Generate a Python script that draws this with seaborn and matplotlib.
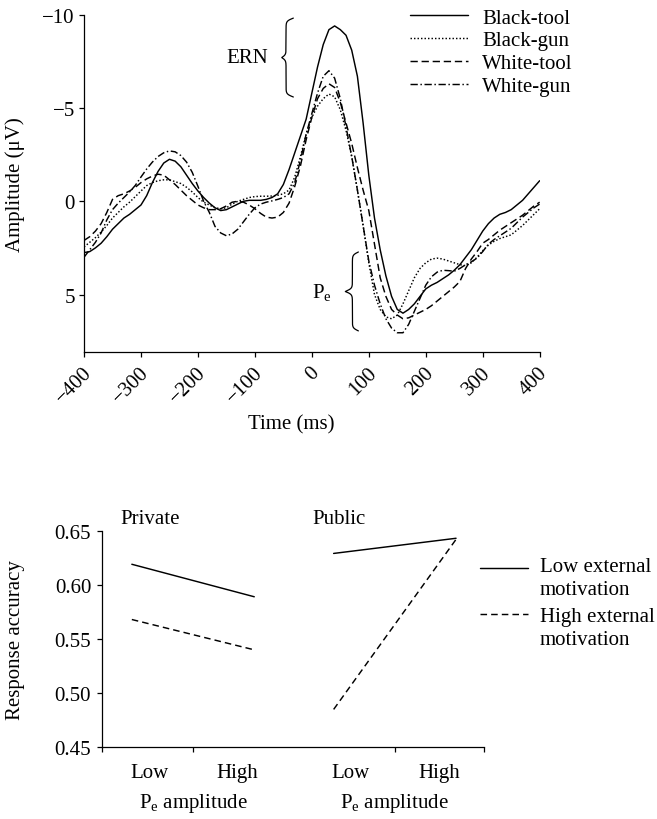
import numpy as np
import pandas as pd
import matplotlib
matplotlib.use("Agg")
import matplotlib.pyplot as plt
import matplotlib.transforms as mtransforms
from matplotlib.lines import Line2D
import seaborn as sns

# ---------------- ERP waveforms (amplitude in µV, negative plotted up) ----------------
time_ms = list(range(-400, 401, 10))

black_tool = [2.75, 2.7, 2.5, 2.25, 1.9, 1.5, 1.2, 0.9, 0.7, 0.45,
              0.2, -0.3, -1.0, -1.6, -2.05, -2.25, -2.15, -1.85, -1.4, -0.95,
              -0.55, -0.2, 0.1, 0.35, 0.5, 0.45, 0.3, 0.15, 0.0, -0.05,
              -0.05, -0.05, -0.1, -0.2, -0.4, -0.9, -1.7, -2.6, -3.5, -4.4,
              -5.8, -7.2, -8.4, -9.2, -9.4, -9.2, -8.9, -8.1, -6.7, -4.2,
              -1.4, 0.9, 2.6, 4.0, 5.1, 5.8, 6.0, 5.8, 5.5, 5.1,
              4.7, 4.5, 4.35, 4.15, 3.95, 3.7, 3.4, 3.0, 2.6, 2.1,
              1.6, 1.2, 0.9, 0.7, 0.6, 0.45, 0.2, -0.05, -0.4, -0.75,
              -1.1]

black_gun = [2.45, 2.2, 1.95, 1.65, 1.3, 0.9, 0.6, 0.3, 0.05, -0.25,
             -0.55, -0.84, -1.0, -1.1, -1.15, -1.15, -1.05, -0.95, -0.75, -0.5,
             -0.2, 0.05, 0.2, 0.35, 0.4, 0.35, 0.15, 0.0, -0.1, -0.2,
             -0.25, -0.27, -0.27, -0.28, -0.32, -0.4, -0.6, -1.3, -2.4, -3.6,
             -4.5, -5.1, -5.5, -5.75, -5.6, -4.9, -3.8, -2.4, -0.6, 1.3,
             3.3, 5.0, 5.8, 6.2, 6.3, 6.1, 5.5, 4.8, 4.1, 3.6,
             3.3, 3.1, 3.05, 3.1, 3.2, 3.3, 3.4, 3.45, 3.3, 3.0,
             2.65, 2.35, 2.15, 2.0, 1.9, 1.8, 1.55, 1.3, 1.0, 0.7,
             0.4]

white_tool = [2.1, 1.9, 1.6, 1.2, 0.6, -0.1, -0.3, -0.4, -0.55, -0.75,
              -1.0, -1.2, -1.35, -1.45, -1.4, -1.15, -0.9, -0.6, -0.3, -0.05,
              0.2, 0.35, 0.45, 0.45, 0.4, 0.25, 0.05, 0.0, 0.05, 0.2,
              0.4, 0.65, 0.85, 0.9, 0.85, 0.6, 0.1, -0.8, -1.9, -3.3,
              -4.5, -5.5, -6.05, -6.3, -6.1, -5.3, -4.2, -3.1, -1.8, -0.6,
              0.5, 2.3, 4.1, 5.1, 5.8, 6.1, 6.3, 6.25, 6.1, 5.95,
              5.8, 5.6, 5.35, 5.1, 4.85, 4.6, 4.3, 3.6, 3.1, 2.7,
              2.25, 2.05, 1.8, 1.55, 1.35, 1.15, 0.95, 0.75, 0.5, 0.25,
              0.05]

white_gun = [3.0, 2.6, 2.2, 1.7, 1.0, 0.45, 0.1, -0.2, -0.5, -0.85,
             -1.3, -1.73, -2.1, -2.4, -2.6, -2.7, -2.65, -2.45, -2.1, -1.55,
             -0.8, 0.0, 0.6, 1.35, 1.7, 1.85, 1.75, 1.5, 1.1, 0.7,
             0.35, 0.15, 0.05, -0.02, -0.1, -0.2, -0.4, -1.0, -2.2, -3.6,
             -4.7, -5.8, -6.7, -7.0, -6.6, -5.5, -4.0, -2.4, -0.6, 1.3,
             3.2, 4.5, 5.5, 6.3, 6.8, 7.05, 7.05, 6.6, 5.9, 5.2,
             4.5, 4.05, 3.8, 3.7, 3.72, 3.75, 3.6, 3.4, 3.25, 3.05,
             2.7, 2.3, 2.05, 1.85, 1.65, 1.45, 1.15, 0.85, 0.6, 0.35,
             0.15]

conditions = ["Black-tool", "Black-gun", "White-tool", "White-gun"]
time_ticks = [-400, -300, -200, -100, 0, 100, 200, 300, 400]
amp_ticks = [-10, -5, 0, 5]

# ---------------- Response accuracy by Pe amplitude ----------------
contexts = ["Private", "Public"]
pe_levels = ["Low", "High"]
motivation_groups = ["Low external\nmotivation", "High external\nmotivation"]
private_low_motivation = [0.619, 0.589]
private_high_motivation = [0.568, 0.540]
public_low_motivation = [0.629, 0.643]
public_high_motivation = [0.485, 0.642]
accuracy_ticks = [0.45, 0.50, 0.55, 0.60, 0.65]

FS = 15
LW = 1.05

# ---------------- style ----------------
sns.set_theme(style="ticks")
plt.rcParams.update({
    "font.family": ["Liberation Serif", "DejaVu Serif"],
    "mathtext.fontset": "custom",
    "mathtext.rm": "Liberation Serif",
    "mathtext.it": "Liberation Serif:italic",
    "mathtext.bf": "Liberation Serif:bold",
    "font.size": FS,
    "axes.labelsize": FS,
    "xtick.labelsize": FS,
    "ytick.labelsize": FS,
    "legend.fontsize": FS,
    "axes.linewidth": 0.9,
    "axes.edgecolor": "black",
    "axes.labelcolor": "black",
    "text.color": "black",
    "xtick.color": "black",
    "ytick.color": "black",
    "xtick.major.width": 0.9,
    "ytick.major.width": 0.9,
    "xtick.major.size": 3.6,
    "ytick.major.size": 3.6,
})

fig = plt.figure(figsize=(6.57, 8.2), dpi=100)
fig.patch.set_facecolor("white")


def draw_brace(ax, x_end, y0, y1, end_w, tip_w, steep=55):
    """Curly brace opening to the right, pointing left at its middle."""
    u = np.linspace(0, 1, 500)
    d_end = np.minimum(u, 1 - u)
    d_tip = np.abs(u - 0.5)
    curl = end_w * (2 / (1 + np.exp(-steep * d_end)) - 1)
    point = tip_w * 2 / (1 + np.exp(steep * d_tip))
    ax.plot(x_end - curl - point, y0 + u * (y1 - y0), color="black",
            lw=0.9, clip_on=False)


# ===== top panel: ERP waveforms =====
ax1 = fig.add_axes([0.1279, 0.5691, 0.6935, 0.4117])
erp = pd.DataFrame({
    "time": time_ms * 4,
    "amplitude": black_tool + black_gun + white_tool + white_gun,
    "condition": [c for c in conditions for _ in time_ms],
})
sns.lineplot(
    data=erp, x="time", y="amplitude", hue="condition", style="condition",
    hue_order=conditions, style_order=conditions,
    palette={c: "black" for c in conditions},
    dashes={"Black-tool": "", "Black-gun": (1, 1.4),
            "White-tool": (5, 2.6), "White-gun": (5, 1.8, 1, 1.8)},
    linewidth=LW, estimator=None, errorbar=None, ax=ax1,
)
ax1.set_xlim(-400, 400)
ax1.set_ylim(8.1, -10)
sns.despine(ax=ax1)
ax1.set_yticks(amp_ticks)
ax1.set_yticklabels([f"{v}".replace("-", "\u2212") for v in amp_ticks])
ax1.set_xticks(time_ticks)
ax1.set_xticklabels([f"{v}".replace("-", "\u2212") for v in time_ticks],
                    rotation=45, ha="right", va="top", rotation_mode="anchor")
ax1.tick_params(axis="x", pad=4)
ax1.tick_params(axis="y", pad=3)
shift = mtransforms.ScaledTranslation(-0.02, 0, fig.dpi_scale_trans)
for lab in ax1.get_xticklabels():
    lab.set_transform(lab.get_transform() + shift)
ax1.set_xlabel("Time (ms)")
ax1.xaxis.set_label_coords(0.455, -0.183)
ax1.set_ylabel("Amplitude (\u03bcV)")
ax1.yaxis.set_label_coords(-0.1295, 0.5)

sns.move_legend(ax1, "upper left", bbox_to_anchor=(0.7155, 1.02),
                frameon=False, title=None, fontsize=FS, handlelength=2.8,
                handletextpad=0.65, labelspacing=0.16, borderpad=0,
                borderaxespad=0)

ax1.text(-77, -7.73, "ERN", ha="right", va="center")
draw_brace(ax1, -32.5, -9.82, -5.59, 12.8, 7.6)
ax1.text(35, 4.85, r"P$_{\mathrm{e}}$", ha="right", va="center")
draw_brace(ax1, 81.7, 2.72, 6.95, 10.5, 12.8)

# ===== bottom panel: response accuracy =====
ax2 = fig.add_axes([0.1548, 0.0874, 0.5823, 0.2642])
context_centre = {"Private": 0.955, "Public": 3.065}
level_offset = {"Low": -0.64, "High": 0.64}
motivation_dashes = {motivation_groups[0]: "", motivation_groups[1]: (4.5, 2.8)}
values = {
    ("Private", motivation_groups[0]): private_low_motivation,
    ("Private", motivation_groups[1]): private_high_motivation,
    ("Public", motivation_groups[0]): public_low_motivation,
    ("Public", motivation_groups[1]): public_high_motivation,
}
rows = []
for (ctx, mot), accs in values.items():
    for lvl, acc in zip(pe_levels, accs):
        rows.append({"context": ctx, "motivation": mot, "level": lvl,
                     "pos": context_centre[ctx] + level_offset[lvl],
                     "accuracy": acc})
acc_df = pd.DataFrame(rows)
sns.lineplot(
    data=acc_df, x="pos", y="accuracy", hue="motivation", style="motivation",
    units="context", estimator=None, hue_order=motivation_groups,
    style_order=motivation_groups,
    palette={m: "black" for m in motivation_groups},
    dashes=motivation_dashes, linewidth=LW, ax=ax2, legend=False,
)
ax2.set_xlim(0, 4)
ax2.set_ylim(0.45, 0.65)
sns.despine(ax=ax2)
ax2.set_yticks(accuracy_ticks)
ax2.set_yticklabels([f"{v:.2f}" for v in accuracy_ticks])
ax2.tick_params(axis="y", pad=4)
ax2.set_xticks([0, context_centre["Private"], context_centre["Public"], 4])
ax2.set_xticklabels([])
label_pos = [context_centre[c] + s * 0.46 for c in contexts for s in (-1, 1)]
ax2.set_xticks(label_pos, minor=True)
ax2.set_xticklabels(pe_levels * 2, minor=True)
ax2.tick_params(axis="x", which="minor", length=0, pad=11)
ax2.set_xlabel("")
ax2.set_ylabel("Response accuracy")
ax2.yaxis.set_label_coords(-0.2005, 0.5)

blend = mtransforms.blended_transform_factory(ax2.transData, ax2.transAxes)
ax2.text(0.19, 1.054, "Private", transform=blend, ha="left", va="center")
ax2.text(2.2, 1.054, "Public", transform=blend, ha="left", va="center")
for ctx in contexts:
    ax2.text(context_centre[ctx], -0.2525, r"P$_{\mathrm{e}}$ amplitude",
             transform=blend, ha="center", va="center")

# legend keys beside the panel, key line level with the first text line
key_rows = [0.829, 0.615]
text_rows = [0.834, 0.604]
for mot, ky, ty in zip(motivation_groups, key_rows, text_rows):
    dash = motivation_dashes[mot]
    ax2.add_line(Line2D([0.9895, 1.1134], [ky, ky], transform=ax2.transAxes,
                        color="black", lw=LW, clip_on=False,
                        linestyle="-" if dash == "" else (0, dash)))
    first, second = mot.split("\n")
    ax2.text(1.1448, ty, first, transform=ax2.transAxes,
             ha="left", va="center")
    ax2.text(1.1448, ty - 0.104, second, transform=ax2.transAxes,
             ha="left", va="center")

fig.savefig("out.png", dpi=100, facecolor="white")
